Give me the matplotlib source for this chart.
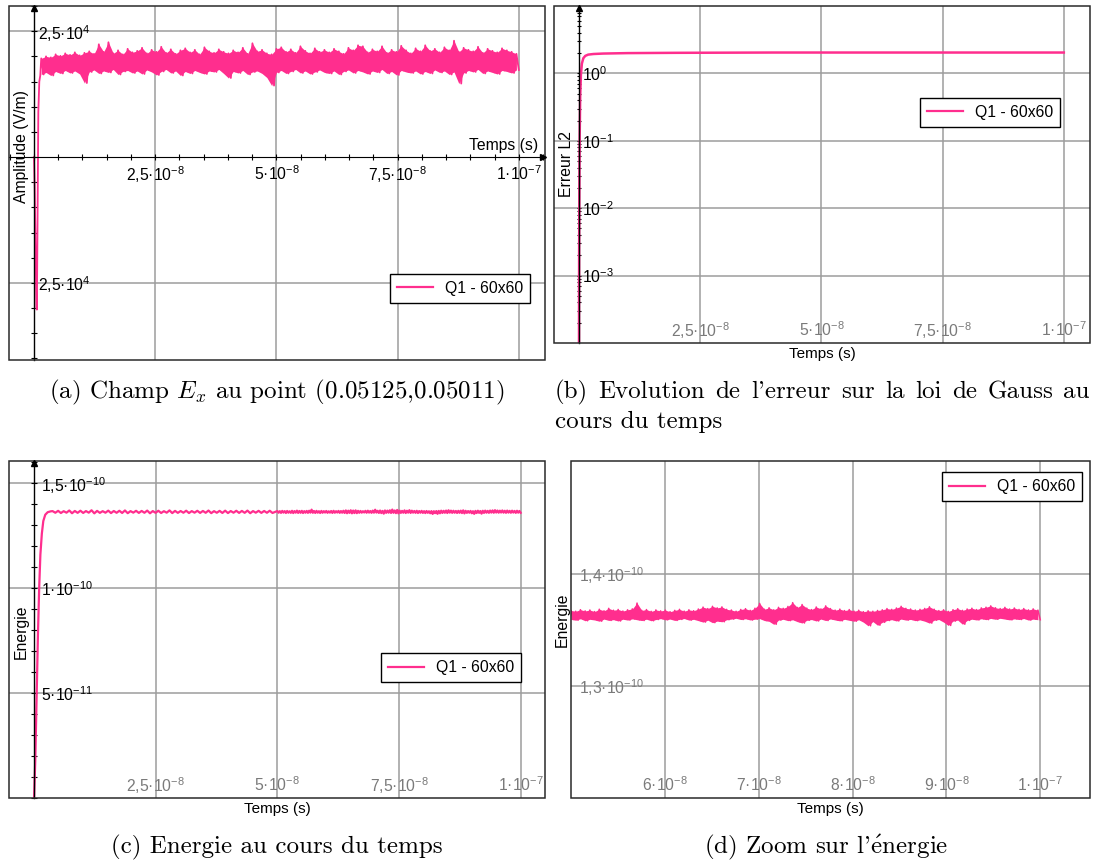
import numpy as np
import matplotlib.pyplot as plt
from matplotlib.patches import Rectangle
from matplotlib.ticker import MultipleLocator, LogLocator, NullFormatter

plt.rcParams['font.family'] = ['Liberation Sans', 'DejaVu Sans']
plt.rcParams['mathtext.fontset'] = 'custom'
plt.rcParams['mathtext.rm'] = 'Liberation Sans'
plt.rcParams['mathtext.it'] = 'Liberation Sans:italic'
plt.rcParams['font.size'] = 11.3

pink = '#ff2e8e'
gridc = '#9c9c9c'
tickgray = '#7a7a7a'
serie = 'Q1 - 60x60'

# ---- (a) champ Ex : transitoire puis bande de bruit (unites 1e4 V/m)
a_t0 = [0, 0.15, 0.35, 0.5, 0.6, 0.75, 0.9, 1.1, 1.3]          # ns
a_y0 = [0, -0.6, -2.0, -3.0, -3.03, -1.2, 0.9, 1.5, 1.62]
a_hi = [1.96, 2.00, 1.98, 2.04, 2.01, 2.06, 2.03, 2.08, 2.02, 2.07,
        2.10, 2.05, 2.24, 2.09, 2.28, 2.06, 2.12, 2.04, 2.15, 2.08,
        2.11, 2.17, 2.06, 2.13, 2.09, 2.19, 2.07, 2.14, 2.05, 2.12,
        2.16, 2.08, 2.13, 2.04, 2.18, 2.10, 2.07, 2.14, 2.09, 2.06,
        2.12, 2.08, 2.17, 2.05, 2.26, 2.10, 2.13, 2.06, 2.04, 2.15,
        2.18, 2.09, 2.14, 2.07, 2.20, 2.11, 2.06, 2.16, 2.09, 2.13,
        2.08, 2.15, 2.10, 2.05, 2.17, 2.12, 2.22, 2.20, 2.08, 2.14,
        2.10, 2.20, 2.07, 2.13, 2.09, 2.21, 2.12, 2.06, 2.16, 2.10,
        2.22, 2.11, 2.15, 2.08, 2.18, 2.12, 2.31, 2.09, 2.17, 2.13,
        2.10, 2.19, 2.07, 2.15, 2.11, 2.08, 2.16, 2.12, 2.09, 2.05]
a_lo = [1.64, 1.68, 1.62, 1.70, 1.66, 1.72, 1.67, 1.71, 1.65, 1.47,
        1.69, 1.73, 1.66, 1.71, 1.68, 1.74, 1.64, 1.70, 1.72, 1.67,
        1.71, 1.65, 1.73, 1.69, 1.63, 1.70, 1.74, 1.67, 1.71, 1.62,
        1.70, 1.66, 1.72, 1.68, 1.65, 1.71, 1.69, 1.74, 1.66, 1.57,
        1.70, 1.67, 1.72, 1.64, 1.69, 1.71, 1.66, 1.58, 1.42, 1.68,
        1.72, 1.66, 1.70, 1.74, 1.67, 1.71, 1.65, 1.69, 1.73, 1.68,
        1.66, 1.71, 1.64, 1.70, 1.73, 1.67, 1.72, 1.69, 1.65, 1.71,
        1.68, 1.74, 1.66, 1.70, 1.63, 1.72, 1.69, 1.67, 1.71, 1.65,
        1.70, 1.66, 1.73, 1.68, 1.71, 1.64, 1.69, 1.46, 1.67, 1.72,
        1.69, 1.74, 1.66, 1.71, 1.68, 1.65, 1.72, 1.70, 1.67, 1.73]

# ---- (b) erreur L2 sur la loi de Gauss
b_t = [0, 0.03, 0.08, 0.15, 0.25, 0.4, 0.6, 0.9, 1.3, 1.9, 3, 5, 10, 20, 40, 60, 80, 100]  # ns
b_err = [5e-5, 2e-3, 0.02, 0.12, 0.45, 0.95, 1.4, 1.68, 1.82, 1.9, 1.94, 1.97,
         2.0, 2.02, 2.04, 2.04, 2.04, 2.04]

# ---- (c)/(d) energie (unites 1e-10)
e_t0 = [0, 0.25, 0.55, 0.8, 1.05, 1.3, 1.6, 1.9, 2.3, 2.8, 3.4]  # ns
e_v0 = [0, 0.18, 0.50, 0.78, 1.00, 1.16, 1.26, 1.32, 1.35, 1.362, 1.366]
e_hi_c = [1.3672, 1.3685, 1.3668, 1.3701, 1.3679, 1.3690, 1.3674, 1.3712, 1.3683, 1.3669,
          1.3694, 1.3677, 1.3688, 1.3703, 1.3671, 1.3686, 1.3680, 1.3697, 1.3674, 1.3689,
          1.3668, 1.3705, 1.3683, 1.3676, 1.3691, 1.3672, 1.3687, 1.3679, 1.3699, 1.3670,
          1.3684, 1.3693, 1.3675, 1.3688, 1.3681, 1.3696, 1.3673, 1.3685, 1.3678, 1.3690]
e_lo_c = [1.3594, 1.3582, 1.3597, 1.3571, 1.3590, 1.3585, 1.3598, 1.3566, 1.3588, 1.3596,
          1.3579, 1.3592, 1.3584, 1.3574, 1.3599, 1.3587, 1.3593, 1.3569, 1.3591, 1.3583,
          1.3597, 1.3578, 1.3589, 1.3595, 1.3581, 1.3598, 1.3586, 1.3592, 1.3576, 1.3594,
          1.3585, 1.3580, 1.3596, 1.3587, 1.3591, 1.3573, 1.3597, 1.3588, 1.3593, 1.3584]
e_hi_d = [1.3675, 1.3668, 1.3682, 1.3671, 1.3679, 1.3665, 1.3686, 1.3672, 1.3694, 1.3677,
          1.3684, 1.3670, 1.3681, 1.3689, 1.3741, 1.3676, 1.3683, 1.3667, 1.3680, 1.3671,
          1.3678, 1.3664, 1.3676, 1.3685, 1.3669, 1.3681, 1.3673, 1.3688, 1.3705, 1.3692,
          1.3712, 1.3698, 1.3707, 1.3685, 1.3679, 1.3668, 1.3684, 1.3691, 1.3676, 1.3695,
          1.3738, 1.3686, 1.3699, 1.3681, 1.3703, 1.3694, 1.3711, 1.3745, 1.3702, 1.3728,
          1.3696, 1.3683, 1.3706, 1.3689, 1.3716, 1.3692, 1.3678, 1.3687, 1.3674, 1.3683,
          1.3669, 1.3677, 1.3664, 1.3672, 1.3668, 1.3675, 1.3681, 1.3692, 1.3685, 1.3697,
          1.3712, 1.3694, 1.3688, 1.3679, 1.3685, 1.3693, 1.3708, 1.3686, 1.3674, 1.3681,
          1.3667, 1.3682, 1.3691, 1.3676, 1.3688, 1.3695, 1.3683, 1.3698, 1.3704, 1.3716,
          1.3699, 1.3692, 1.3703, 1.3688, 1.3697, 1.3684, 1.3692, 1.3680, 1.3689, 1.3678]
e_lo_d = [1.3595, 1.3588, 1.3601, 1.3583, 1.3596, 1.3590, 1.3579, 1.3598, 1.3586, 1.3593,
          1.3581, 1.3597, 1.3589, 1.3600, 1.3592, 1.3585, 1.3597, 1.3583, 1.3594, 1.3602,
          1.3591, 1.3598, 1.3586, 1.3595, 1.3603, 1.3589, 1.3596, 1.3584, 1.3571, 1.3588,
          1.3566, 1.3580, 1.3574, 1.3592, 1.3598, 1.3605, 1.3594, 1.3601, 1.3590, 1.3597,
          1.3602, 1.3585, 1.3578, 1.3551, 1.3589, 1.3596, 1.3584, 1.3592, 1.3575, 1.3563,
          1.3587, 1.3594, 1.3581, 1.3598, 1.3585, 1.3599, 1.3590, 1.3582, 1.3596, 1.3587,
          1.3579, 1.3592, 1.3570, 1.3538, 1.3576, 1.3543, 1.3569, 1.3585, 1.3593, 1.3581,
          1.3598, 1.3589, 1.3595, 1.3584, 1.3591, 1.3579, 1.3562, 1.3588, 1.3594, 1.3571,
          1.3541, 1.3580, 1.3589, 1.3552, 1.3586, 1.3597, 1.3590, 1.3601, 1.3593, 1.3604,
          1.3596, 1.3605, 1.3598, 1.3591, 1.3600, 1.3594, 1.3603, 1.3589, 1.3598, 1.3592]


def zigzag(hi, lo):
    return np.column_stack([hi, lo]).ravel()


# series completes
ta_band = np.linspace(1.5e-9, 1e-7, 2 * len(a_hi))
ta = np.concatenate([np.array(a_t0) * 1e-9, ta_band])
ya = np.concatenate([a_y0, zigzag(a_hi, a_lo)]) * 1e4
tb = np.array(b_t) * 1e-9
yb = np.array(b_err)
td_band = np.linspace(5e-8, 1e-7, 2 * len(e_hi_d))
te = np.concatenate([np.array(e_t0) * 1e-9,
                     np.linspace(3.8e-9, 4.9e-8, 2 * len(e_hi_c)),
                     td_band])
ye = np.concatenate([e_v0, zigzag(e_hi_c, e_lo_c), zigzag(e_hi_d, e_lo_d)]) * 1e-10

fig = plt.figure(figsize=(10.93, 8.63), dpi=100)
W, H = 1093, 863


def box(x0, y0, x1, y1):
    ax = fig.add_axes([x0 / W, 1 - y1 / H, (x1 - x0) / W, (y1 - y0) / H])
    for s in ax.spines.values():
        s.set_visible(False)
    ax.add_patch(Rectangle((0, 0), 1, 1, transform=ax.transAxes, fill=False,
                           ec='#2a2a2a', lw=1.1, clip_on=False, zorder=6))
    ax.grid(True, which='major', color=gridc, lw=1.1)
    ax.set_axisbelow(True)
    return ax


def yaxis_at_zero(ax):
    ax.spines['left'].set_visible(True)
    ax.spines['left'].set_position(('data', 0))
    ax.spines['left'].set_linewidth(1.0)
    ax.plot([0], [0.995], marker='^', color='k', ms=4, transform=ax.get_xaxis_transform(),
            clip_on=False, zorder=7)


def legend(ax, loc, anchor):
    leg = ax.legend(loc=loc, bbox_to_anchor=anchor, fancybox=False, edgecolor='black',
                    framealpha=1, borderaxespad=0, handlelength=2.3, handletextpad=0.75,
                    borderpad=0.45, fontsize=11.3)
    leg.get_frame().set_linewidth(1.0)
    for ln in leg.get_lines():
        ln.set_linewidth(1.6)


def inner_ylabels(ax, color='black', pad=-6):
    ax.tick_params(axis='y', which='major', pad=pad, labelcolor=color)
    plt.setp(ax.get_yticklabels(), ha='left')


def bottom_xlabels(ax):
    ax.tick_params(axis='x', which='both', length=0, pad=-16, labelcolor=tickgray)


xt = [2.5e-8, 5e-8, 7.5e-8, 1e-7]
xt_lab = [r'2,5·10$^{-8}$', r'5·10$^{-8}$', r'7,5·10$^{-8}$', r'1·10$^{-7}$']

# ---------------- (a)
ax = box(9, 6, 545, 360)
ax.plot(ta, ya, color=pink, lw=1.3, label=serie)
ax.fill_between(ta_band[0::2], np.array(a_hi) * 1e4, np.array(a_lo) * 1e4,
                color=pink, lw=0)
ax.set_xlim(-0.515e-8, 10.54e-8)
ax.set_ylim(-4.03e4, 3.0e4)
yaxis_at_zero(ax)
ax.spines['bottom'].set_visible(True)
ax.spines['bottom'].set_position(('data', 0))
ax.plot([0.997], [0], marker='>', color='k', ms=4, transform=ax.get_yaxis_transform(),
        clip_on=False, zorder=7)
ax.set_xticks(xt)
ax.set_xticklabels(xt_lab)
ax.set_yticks([-2.5e4, 2.5e4])
ax.set_yticklabels([r'2,5·10$^{4}$', r'2,5·10$^{4}$'])
ax.xaxis.set_minor_locator(MultipleLocator(0.5e-8))
ax.yaxis.set_minor_locator(MultipleLocator(0.5e4))
ax.tick_params(which='both', direction='inout', length=4, width=0.8)
inner_ylabels(ax, pad=-5)
ax.text(0.0237, 0.602, 'Amplitude (V/m)', rotation=90, transform=ax.transAxes,
        ha='center', va='center')
ax.annotate('Temps (s)', xy=(0.987, 0), xycoords=('axes fraction', 'data'),
            xytext=(0, 3), textcoords='offset points', ha='right', va='bottom')
legend(ax, 'lower right', (0.972, 0.161))

# ---------------- (b)
ax = box(554, 6, 1090, 343)
ax.plot(tb, yb, color=pink, lw=1.8, label=serie)
ax.set_yscale('log')
ax.set_xlim(-0.515e-8, 10.54e-8)
ax.set_ylim(1e-4, 10)
yaxis_at_zero(ax)
ax.set_xticks(xt)
ax.set_xticklabels(xt_lab)
ax.set_yticks([1e-3, 1e-2, 1e-1, 1])
ax.set_yticklabels([r'10$^{-3}$', r'10$^{-2}$', r'10$^{-1}$', r'10$^{0}$'])
ax.yaxis.set_minor_locator(LogLocator(subs=np.arange(2, 10)))
ax.yaxis.set_minor_formatter(NullFormatter())
ax.tick_params(axis='y', which='both', direction='inout', length=3, width=0.8)
inner_ylabels(ax, pad=-4)
bottom_xlabels(ax)
ax.text(0.024, 0.531, 'Erreur L2', rotation=90, transform=ax.transAxes,
        ha='center', va='center')
ax.text(0.5, -0.012, 'Temps (s)', transform=ax.transAxes, ha='center', va='top', fontsize=11)
legend(ax, 'lower right', (0.944, 0.641))

# ---------------- (c)
ax = box(9, 461, 545, 798)
ax.plot(te, ye, color=pink, lw=1.6, label=serie)
ax.set_xlim(-0.515e-8, 10.5e-8)
ax.set_ylim(0, 1.606e-10)
yaxis_at_zero(ax)
ax.set_xticks(xt)
ax.set_xticklabels(xt_lab)
ax.set_yticks([5e-11, 1e-10, 1.5e-10])
ax.set_yticklabels([r'5·10$^{-11}$', r'1·10$^{-10}$', r'1,5·10$^{-10}$'])
ax.yaxis.set_minor_locator(MultipleLocator(1e-11))
ax.tick_params(axis='y', which='both', direction='inout', length=4, width=0.8)
inner_ylabels(ax, pad=-7)
bottom_xlabels(ax)
ax.text(0.0237, 0.493, 'Energie', rotation=90, transform=ax.transAxes,
        ha='center', va='center')
ax.text(0.5, -0.012, 'Temps (s)', transform=ax.transAxes, ha='center', va='top', fontsize=11)
legend(ax, 'lower right', (0.955, 0.344))

# ---------------- (d)
ax = box(571, 461, 1090, 798)
ax.plot(te, ye, color=pink, lw=1.1, label=serie)
ax.fill_between(td_band[0::2], np.array(e_hi_d) * 1e-10, np.array(e_lo_d) * 1e-10,
                color=pink, lw=0)
ax.set_xlim(5e-8, 10.53e-8)
ax.set_ylim(1.2e-10, 1.501e-10)
ax.set_xticks([6e-8, 7e-8, 8e-8, 9e-8, 1e-7])
ax.set_xticklabels([r'6·10$^{-8}$', r'7·10$^{-8}$', r'8·10$^{-8}$', r'9·10$^{-8}$',
                    r'1·10$^{-7}$'])
ax.set_yticks([1.3e-10, 1.4e-10])
ax.set_yticklabels([r'1,3·10$^{-10}$', r'1,4·10$^{-10}$'])
ax.tick_params(axis='y', length=0)
inner_ylabels(ax, color=tickgray, pad=-6)
bottom_xlabels(ax)
ax.text(-0.017, 0.528, 'Energie', rotation=90, transform=ax.transAxes,
        ha='center', va='center')
ax.text(0.5, -0.012, 'Temps (s)', transform=ax.transAxes, ha='center', va='top', fontsize=11)
legend(ax, 'upper right', (0.985, 0.967))

# ---------------- legendes (style LaTeX)
cap = dict(family='cmr10', math_fontfamily='cm', fontsize=18, va='baseline')
fig.text(277 / W, 1 - 398 / H, r'(a) Champ $E_x$ au point (0.05125,0.05011)', ha='center', **cap)
fig.text(277 / W, 1 - 853 / H, '(c) Energie au cours du temps', ha='center', **cap)
fig.text(826 / W, 1 - 853 / H, r"(d) Zoom sur l'$\mathrm{\acute{e}}$nergie", ha='center', **cap)

# ligne justifiee de (b)
words = "(b) Evolution de l'erreur sur la loi de Gauss au".split()
rend = fig.canvas.get_renderer()
texts = [fig.text(0, 1 - 398 / H, w, ha='left', **cap) for w in words]
widths = [t.get_window_extent(rend).width for t in texts]
x0, x1 = 555, 1090
gap = (x1 - x0 - sum(widths)) / (len(words) - 1)
x = x0
for t, w in zip(texts, widths):
    t.set_x(x / W)
    x += w + gap
fig.text(555 / W, 1 - 428 / H, 'cours du temps', ha='left', **cap)

fig.savefig('out.png', dpi=100, facecolor='white')
